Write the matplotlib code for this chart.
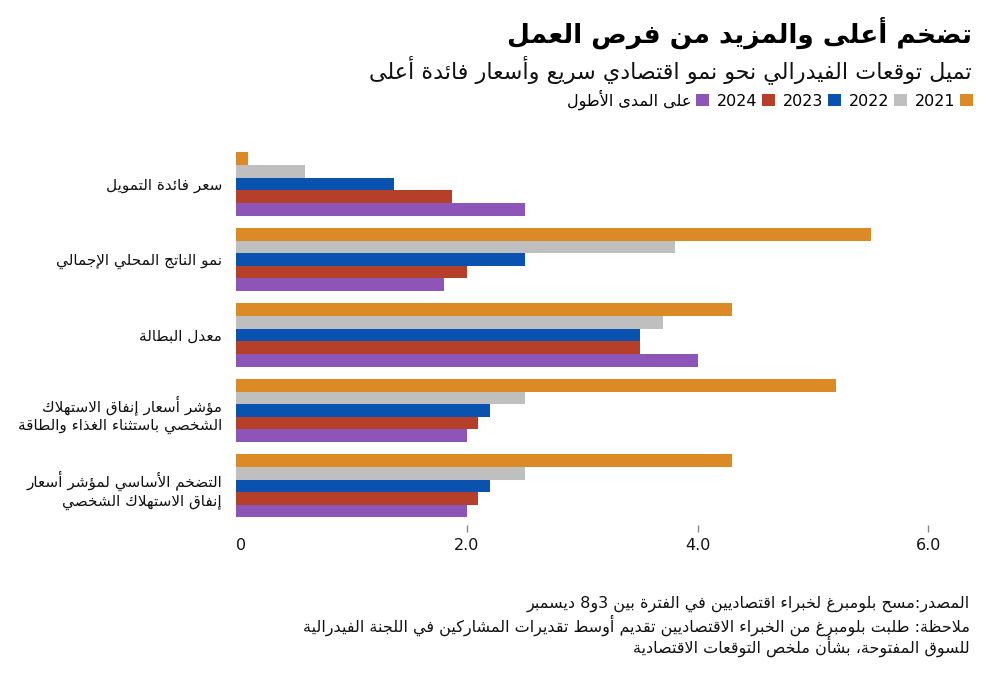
import numpy as np
import matplotlib
matplotlib.use('Agg')
import matplotlib.pyplot as plt
from matplotlib.patches import Patch

plt.rcParams['font.family'] = ['DejaVu Sans']

# ---- data ----
categories = [
    'سعر فائدة التمويل',
    'نمو الناتج المحلي الإجمالي',
    'معدل البطالة',
    'مؤشر أسعار إنفاق الاستهلاك\nالشخصي باستثناء الغذاء والطاقة',
    'التضخم الأساسي لمؤشر أسعار\nإنفاق الاستهلاك الشخصي',
]
series_names = ['2021', '2022', '2023', '2024', 'على المدى الأطول']
v2021 = [0.1, 5.5, 4.3, 5.2, 4.3]
v2022 = [0.6, 3.8, 3.7, 2.5, 2.5]
v2023 = [1.37, 2.5, 3.5, 2.2, 2.2]
v2024 = [1.87, 2.0, 3.5, 2.1, 2.1]
vlong = [2.5, 1.8, 4.0, 2.0, 2.0]
colors = ['#DC8A26', '#BFBFBF', '#0A52B0', '#B53F28', '#8E55B8']

title = 'تضخم أعلى والمزيد من فرص العمل'
subtitle = 'تميل توقعات الفيدرالي نحو نمو اقتصادي سريع وأسعار فائدة أعلى'
footer = [
    'المصدر:مسح بلومبرغ لخبراء اقتصاديين في الفترة بين 3و8 ديسمبر',
    'ملاحظة: طلبت بلومبرغ من الخبراء الاقتصاديين تقديم أوسط تقديرات المشاركين في اللجنة الفيدرالية',
    'للسوق المفتوحة، بشأن ملخص التوقعات الاقتصادية',
]
xticks = [0, 2, 4, 6]
xticklabels = ['0', '2.0', '4.0', '6.0']

# ---- arabic shaping (no external reshaper available) ----
_forms = {}
_seq = [('\u0621', 1), ('\u0622', 2), ('\u0623', 2), ('\u0624', 2), ('\u0625', 2),
        ('\u0626', 4), ('\u0627', 2), ('\u0628', 4), ('\u0629', 2), ('\u062A', 4),
        ('\u062B', 4), ('\u062C', 4), ('\u062D', 4), ('\u062E', 4), ('\u062F', 2),
        ('\u0630', 2), ('\u0631', 2), ('\u0632', 2), ('\u0633', 4), ('\u0634', 4),
        ('\u0635', 4), ('\u0636', 4), ('\u0637', 4), ('\u0638', 4), ('\u0639', 4),
        ('\u063A', 4), ('\u0641', 4), ('\u0642', 4), ('\u0643', 4), ('\u0644', 4),
        ('\u0645', 4), ('\u0646', 4), ('\u0647', 4), ('\u0648', 2), ('\u0649', 2),
        ('\u064A', 4)]
code = 0xFE80
for ch, n in _seq:
    _forms[ch] = (code, n)
    code += n
lam_alef = {'\u0622': 0xFEF5, '\u0623': 0xFEF7, '\u0625': 0xFEF9, '\u0627': 0xFEFB}


def shape(s):
    out = []
    i = 0
    while i < len(s):
        c = s[i]
        prev = s[i - 1] if i > 0 else ''
        jp = prev in _forms and _forms[prev][1] == 4
        if c == '\u0644' and i + 1 < len(s) and s[i + 1] in lam_alef:
            out.append(chr(lam_alef[s[i + 1]] + (1 if jp else 0)))
            i += 2
            continue
        if c in _forms:
            base, n = _forms[c]
            nxt = s[i + 1] if i + 1 < len(s) else ''
            jn = n == 4 and nxt in _forms and _forms[nxt][1] >= 2
            if n == 1:
                jp = False
            if jp and jn:
                k = 3
            elif jp:
                k = 1
            elif jn:
                k = 2
            else:
                k = 0
            out.append(chr(base + k))
        else:
            out.append(c)
        i += 1
    return ''.join(out)


def ar(text):
    lines = []
    for line in text.split('\n'):
        sh = shape(line)
        runs = []
        for ch in sh:
            ltr = ch.isascii() and (ch.isalnum() or ch == '.')
            if runs and runs[-1][0] == ltr:
                runs[-1][1].append(ch)
            else:
                runs.append([ltr, [ch]])
        vis = ''
        for ltr, chars in reversed(runs):
            vis += ''.join(chars) if ltr else ''.join(reversed(chars))
        lines.append(vis)
    return '\n'.join(lines)


# ---- figure ----
fig = plt.figure(figsize=(10.01, 6.75), dpi=100)
W, H = 1001, 675
ax = fig.add_axes([236 / W, 1 - 525 / H, 704 / W, 385 / H])

values = [v2021, v2022, v2023, v2024, vlong]
y = np.arange(len(categories))
h = 0.167
for k, (vals, col) in enumerate(zip(values, colors)):
    ax.barh(y + (k - 2) * h, vals, height=h, color=col, linewidth=0)

ax.set_xlim(0, 6.1)
ax.set_ylim(4.517, -0.583)
for s in ax.spines.values():
    s.set_visible(False)
ax.set_yticks(y)
ax.set_yticklabels([ar(c) for c in categories], fontsize=11, color='#111111',
                   multialignment='right', linespacing=1.25)
ax.tick_params(axis='y', length=0, pad=10)
ax.set_xticks(xticks)
ax.set_xticklabels(xticklabels, fontsize=11.5, color='#111111')
ax.tick_params(axis='x', length=5, width=1, color='#888888', pad=4)
ax.xaxis.get_major_ticks()[0].tick1line.set_visible(False)
ax.get_xticklabels()[0].set_ha('left')

fig.text(972 / W, 1 - 33 / H, ar(title), ha='right', va='center',
         fontsize=19, fontweight='bold', color='#000000')
fig.text(972 / W, 1 - 70 / H, ar(subtitle), ha='right', va='center',
         fontsize=16, color='#111111')

handles = [Patch(facecolor=c, edgecolor='none') for c in colors][::-1]
labels = [ar(n) for n in series_names][::-1]
fig.legend(handles, labels, loc='center right', bbox_to_anchor=(973 / W, 1 - 100 / H),
           ncol=5, frameon=False, markerfirst=False, fontsize=11.5,
           handlelength=0.8, handleheight=0.8, handletextpad=0.3,
           columnspacing=0.5, borderaxespad=0, borderpad=0)

for i, line in enumerate(footer):
    fig.text(970 / W, 1 - (604 + i * 21) / H, ar(line), ha='right', va='center',
             fontsize=11.5, color='#111111')

fig.savefig('out.png', dpi=100)
